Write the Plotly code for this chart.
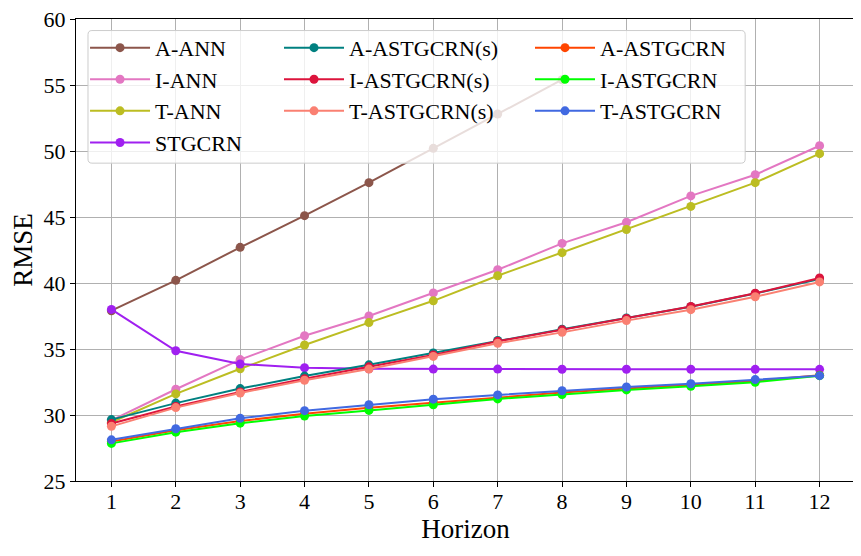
import plotly.graph_objects as go

# === Datos (RMSE por horizonte) ===
horizon = list(range(1, 13))

a_ann = [37.9, 40.2, 42.7, 45.1, 47.6, 50.2, 52.8, 55.4, None, None, None, None]
i_ann = [29.6, 31.95, 34.2, 36.0, 37.5, 39.25, 41.0, 43.0, 44.6, 46.6, 48.2, 50.4]
t_ann = [29.45, 31.6, 33.5, 35.3, 37.0, 38.65, 40.55, 42.3, 44.05, 45.8, 47.6, 49.8]
stgcrn = [38.0, 34.87, 33.86, 33.58, 33.5, 33.48, 33.48, 33.47, 33.47, 33.47, 33.46, 33.46]

a_astgcrn_s = [29.65, 30.9, 32.0, 32.95, 33.8, 34.7, 35.65, 36.5, 37.35, 38.2, 39.2, 40.3]
i_astgcrn_s = [29.35, 30.65, 31.75, 32.75, 33.65, 34.55, 35.58, 36.45, 37.32, 38.22, 39.22, 40.38]
t_astgcrn_s = [29.14, 30.56, 31.67, 32.63, 33.48, 34.44, 35.43, 36.26, 37.15, 37.98, 38.96, 40.08]

a_astgcrn = [28.0, 28.85, 29.55, 30.1, 30.55, 30.95, 31.35, 31.7, 32.0, 32.28, 32.58, 33.02]
i_astgcrn = [27.85, 28.7, 29.38, 29.92, 30.35, 30.78, 31.22, 31.55, 31.9, 32.18, 32.48, 32.98]
t_astgcrn = [28.12, 28.96, 29.75, 30.33, 30.78, 31.2, 31.52, 31.84, 32.12, 32.37, 32.68, 32.98]

series = [
    ("A-ANN", a_ann, "#8c564b", "legend"),
    ("I-ANN", i_ann, "#e377c2", "legend"),
    ("T-ANN", t_ann, "#bcbd22", "legend"),
    ("STGCRN", stgcrn, "#a020f0", "legend"),
    ("A-ASTGCRN(s)", a_astgcrn_s, "#008080", "legend2"),
    ("I-ASTGCRN(s)", i_astgcrn_s, "#dc143c", "legend2"),
    ("T-ASTGCRN(s)", t_astgcrn_s, "#fa8072", "legend2"),
    ("A-ASTGCRN", a_astgcrn, "#ff4500", "legend3"),
    ("I-ASTGCRN", i_astgcrn, "#00ff00", "legend3"),
    ("T-ASTGCRN", t_astgcrn, "#4169e1", "legend3"),
]

FONT = "Liberation Serif"

fig = go.Figure()
for nombre, valores, color, leg in series:
    fig.add_trace(go.Scatter(
        x=horizon, y=valores, name=nombre, mode="lines+markers",
        line=dict(color=color, width=2),
        marker=dict(color=color, size=9),
        legend=leg,
    ))

# marco de la leyenda (blanco semitransparente, esquinas redondeadas)
x0, x1, y0, y1 = 0.0154, 0.859, 0.688, 0.975
rx, ry = 0.005, 0.009
path = (f"M{x0+rx},{y1} L{x1-rx},{y1} Q{x1},{y1} {x1},{y1-ry} "
        f"L{x1},{y0+ry} Q{x1},{y0} {x1-rx},{y0} L{x0+rx},{y0} "
        f"Q{x0},{y0} {x0},{y0+ry} L{x0},{y1-ry} Q{x0},{y1} {x0+rx},{y1} Z")
fig.add_shape(type="path", path=path, xref="paper", yref="paper",
              fillcolor="rgba(255,255,255,0.8)", line=dict(color="#cccccc", width=1),
              layer="above")

leg_style = dict(bgcolor="rgba(0,0,0,0)", borderwidth=0, xanchor="left", yanchor="top",
                 font=dict(family=FONT, size=22, color="black"), itemwidth=60,
                 tracegroupgap=0)

axis_style = dict(showline=True, linecolor="black", linewidth=1.1, mirror=True,
                  ticks="outside", ticklen=5, tickcolor="black", tickwidth=1.1,
                  showgrid=True, gridcolor="#b0b0b0", gridwidth=1.1, zeroline=False,
                  automargin=False, ticklabeloverflow="allow",
                  tickfont=dict(family=FONT, size=22, color="black"))

# la página tiene 8px de margen en el body: se compensa en los márgenes
fig.update_layout(
    width=853, height=548,
    margin=dict(l=68, r=6, t=11, b=75),
    plot_bgcolor="white", paper_bgcolor="white",
    font=dict(family=FONT, color="black"),
    xaxis=dict(range=[0.45, 12.55], tickmode="array", tickvals=horizon,
               ticklabelstandoff=-4,
               title=dict(text="Horizon", font=dict(family=FONT, size=27), standoff=3),
               **axis_style),
    yaxis=dict(range=[25, 60], dtick=5,
               title=dict(text="RMSE", font=dict(family=FONT, size=27), standoff=10),
               **axis_style),
    legend=dict(x=0.0116, y=0.983, **leg_style),
    legend2=dict(x=0.2606, y=0.983, **leg_style),
    legend3=dict(x=0.5828, y=0.983, **leg_style),
    showlegend=True,
)

fig.write_html("out.html")
